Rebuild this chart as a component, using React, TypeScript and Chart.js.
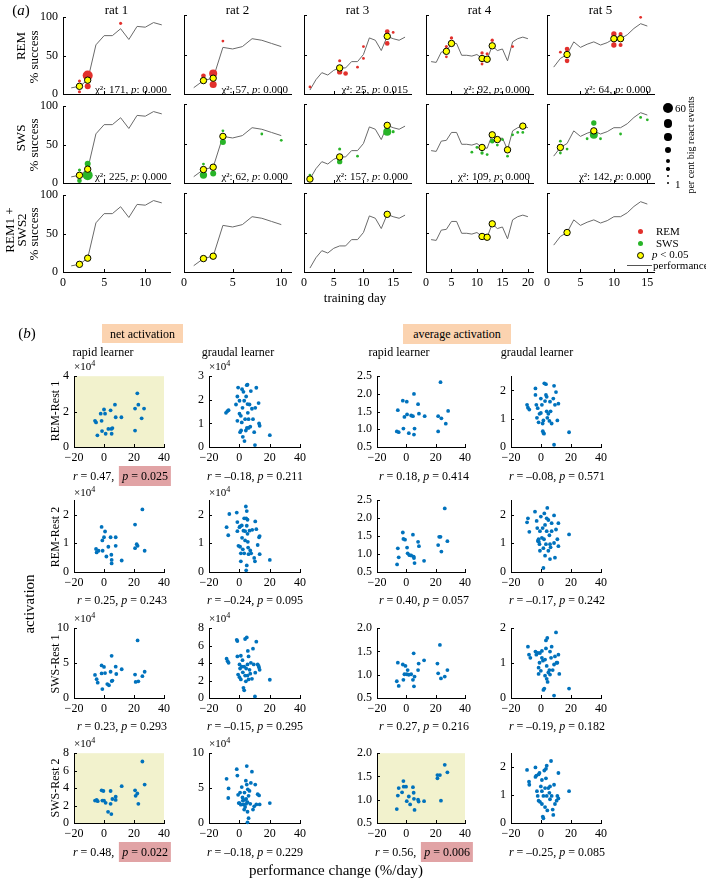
import React, { useEffect, useRef } from "react";
import { Chart, registerables } from "chart.js";
Chart.register(...registerables);

const FONT = '"Liberation Serif", "Times New Roman", Times, serif';
Chart.defaults.font.family = FONT;
Chart.defaults.color = "#000";

// ---------------- Panel (a) data ----------------
const ratNames = ["rat 1", "rat 2", "rat 3", "rat 4", "rat 5"];
const dayTicks = [[0, 5, 10], [0, 5, 10], [0, 5, 10, 15], [0, 5, 10, 15, 20], [0, 5, 10, 15]];
const dayMax = [13, 11, 18, 21, 16];
const pctTicks = [0, 50, 100];

const rat1Perf = [8, 10, 18, 64, 76, 76, 85, 71, 88, 87, 93, 90];
const rat2Perf = [8, 17, 20, 59, 57, 60, 70, 68, 64, 60];
const rat3Perf = [5, 18, 27, 24, 30, 33, 33, 41, 41, 50, 71, 68, 55, 73, 70, 68, 72];
const rat4Perf = [41, 40, 53, 54, 64, 64, 49, 49, 48, 50, 45, 44, 61, 55, 57, 42, 66, 70, 72, 70];
const rat5Perf = [34, 45, 50, 66, 59, 63, 66, 62, 65, 70, 70, 75, 83, 89, 86];

// [training day, % success, per cent big react events]
const rat1Rem = [[2, 17, 8], [2, 3, 8], [3, 24, 60], [3, 10, 30], [7, 92, 8]];
const rat2Rem = [[2, 23, 20], [3, 26, 45], [3, 12, 38], [4, 67, 6]];
const rat3Rem = [[1, 9, 6], [6, 42, 8], [6, 28, 25], [7, 26, 20], [9, 34, 6], [10, 60, 6], [10, 45, 6], [14, 79, 20], [14, 64, 20], [15, 78, 6]];
const rat4Rem = [[4, 60, 8], [4, 47, 6], [5, 71, 10], [11, 52, 10], [12, 51, 8], [11, 38, 6], [13, 68, 10], [17, 60, 6]];
const rat5Rem = [[2, 53, 6], [3, 57, 20], [3, 42, 20], [10, 76, 25], [10, 62, 25], [11, 76, 15], [11, 62, 15], [14, 97, 6]];

const rat1Sws = [[2, 17, 8], [2, 3, 20], [3, 25, 30], [3, 10, 60]];
const rat2Sws = [[2, 24, 6], [2, 10, 40], [3, 12, 30], [4, 66, 6], [4, 52, 30], [8, 62, 6], [10, 54, 6]];
const rat3Sws = [[1, 10, 6], [6, 43, 8], [6, 27, 25], [9, 34, 6], [14, 65, 45], [15, 65, 8]];
const rat4Sws = [[9, 39, 6], [10, 45, 6], [11, 38, 10], [12, 36, 6], [13, 53, 20], [14, 48, 6], [15, 55, 6], [16, 34, 6], [17, 61, 6], [18, 64, 6], [19, 64, 6]];
const rat5Sws = [[2, 53, 6], [2, 38, 6], [3, 43, 6], [6, 56, 6], [7, 76, 25], [7, 61, 45], [8, 56, 6], [11, 62, 6], [14, 83, 6], [15, 80, 6]];

// significant days (p < 0.05) for rows REM, SWS, REM1 + SWS2
const rat1SigDays = [[2, 3], [2, 3], [2, 3]];
const rat2SigDays = [[2, 3], [2, 3, 4], [2, 3]];
const rat3SigDays = [[6, 14], [1, 6, 14], [14]];
const rat4SigDays = [[4, 5, 11, 12, 13], [11, 13, 14, 16, 19], [11, 12, 13]];
const rat5SigDays = [[3, 10, 11], [2, 7], [3]];

const chiRem = [171, 57, 25, 92, 64];
const chiRemP = [0.0, 0.0, 0.015, 0.0, 0.0];
const chiSws = [225, 62, 157, 109, 142];
const chiSwsP = [0.0, 0.0, 0.0, 0.0, 0.0];
const sizeLegendPct = [60, 50, 40, 30, 20, 10, 5, 1];

// ---------------- Panel (b) data ----------------
const bRowNames = ["REM-Rest 1", "REM-Rest 2", "SWS-Rest 1", "SWS-Rest 2"];
const perfTicks = [-20, 0, 20, 40];

const remRest1NetRapid = [[-6, 1.48], [-5.3, 1.39], [-4.4, 0.66], [-2.2, 1.88], [-1.6, 1.48], [-1.3, 0.9], [0, 2.12], [0.7, 1.88], [1.1, 0.75], [2.9, 1.02], [4.4, 2.07], [4.9, 1.02], [5.1, 0.75], [5.6, 1.07], [7.3, 2.39], [7.8, 1.68], [11.6, 1.68], [20.7, 0.93], [20.7, 2.17], [22.2, 3.03], [22.9, 2.39], [25.1, 1.62], [26.7, 2.17]];
const remRest1NetGradual = [[-8.8, 1.45], [-7.9, 1.52], [-7.1, 1.56], [-2.2, 1.8], [-1.3, 2.14], [-1.3, 1.11], [-0.8, 2.52], [0.1, 1.96], [0.1, 1.41], [0.5, 0.63], [1, 1.32], [1.2, 0.7], [1.8, 2.45], [2.1, 1.66], [2.3, 0.43], [2.7, 2.34], [3.4, 0.25], [3.8, 1.18], [4.3, 0.7], [4.5, 2.14], [4.9, 2.62], [5.4, 2.64], [5.4, 1.82], [5.6, 1.45], [6.1, 1.18], [6.1, 0.81], [6.7, 1.8], [7.2, 0.86], [7.6, 2.37], [8.3, 1.62], [9, 1.18], [9.8, 0.63], [10.3, 0.08], [10.5, 1.66], [11.2, 2.51], [12.7, 1.86], [13, 1], [13.4, 0.9], [20.1, 0.5], [5, 0.81], [3.2, 1.96], [1.6, 1.04]];
const remRest1AvgRapid = [[-5.8, 1.54], [-6.5, 0.94], [-5.2, 0.92], [-2.4, 1.81], [-2, 1.02], [-1.3, 1.35], [0.3, 1.78], [0.5, 1.42], [1.7, 0.89], [3.3, 1.39], [4.5, 1.37], [5.2, 2], [5.6, 1.02], [5.2, 0.85], [8, 1.71], [8.6, 1.44], [12.5, 1.37], [21.7, 1.37], [21.7, 0.94], [23.3, 2.33], [23.9, 1.31], [26.9, 1.16], [28.5, 1.52]];
const remRest1AvgGradual = [[-9.3, 1.49], [-8.7, 1.39], [-7.8, 1.32], [-3.7, 2.07], [-3.7, 1.84], [-3.1, 1.49], [-2.7, 1.03], [-2.2, 1.37], [-1.6, 0.87], [-1, 1.17], [-0.1, 1.2], [-0.1, 1.71], [0.6, 1.49], [1.2, 0.56], [1.6, 0.49], [2, 0.47], [1.6, 0.94], [2.2, 2.25], [2.7, 1.62], [3.3, 2.22], [3.3, 1.84], [3.8, 1.26], [3.8, 1.77], [4.2, 1.03], [4.9, 1.17], [5.6, 0.92], [6, 1.6], [6.4, 1.26], [7.1, 0.83], [8.2, 1.71], [8.7, 2.16], [9.3, 1.49], [10, 1.94], [10.9, 0.94], [11.6, 1.53], [8.7, 0.08], [18.7, 0.52], [1.1, 0.83]];

const remRest2NetRapid = [[-5.3, 0.8], [-4.9, 0.68], [-3.6, 0.74], [-1.6, 1.57], [-1.1, 1.1], [-0.9, 0.74], [0.7, 1.41], [0, 1.21], [1.6, 0.54], [2.9, 0.88], [4.4, 1.21], [4.9, 0.6], [5.1, 0.42], [5.1, 0.3], [7.8, 1.21], [7.8, 0.91], [11.8, 0.4], [20.7, 1.65], [20.7, 0.83], [21.8, 0.97], [22.4, 0.91], [25.6, 2.18], [27.1, 0.74]];
const remRest2NetGradual = [[-8.4, 1.56], [-7.3, 1.28], [-6.6, 2.02], [-1.7, 2.07], [-1.3, 1.74], [-1.3, 1.42], [0.1, 1.56], [0.5, 1.59], [-0.6, 0.91], [0.5, 0.88], [1, 0.65], [1, 0.37], [1.6, 1.62], [1.8, 1.19], [2.3, 0.79], [2.7, 1.44], [3.2, 0.65], [3.8, 1.1], [4.3, 2.28], [4.5, 1.87], [4.9, 2.12], [4.9, 1.61], [5.4, 1.82], [5.4, 1.33], [5.6, 1.05], [5.8, 0.85], [6.1, 0.62], [4.9, 0.23], [4.5, 0.06], [6.7, 1.44], [7.2, 0.75], [7.8, 0.65], [8.5, 1.47], [9.8, 0.49], [10.3, 0.37], [10.5, 1.76], [11.2, 1.49], [12.1, 0.94], [13, 1.21], [13.4, 1.25], [13.4, 0.62], [20.1, 0.42], [3.8, 1.42], [3.2, 1.87]];
const remRest2AvgRapid = [[-5.8, 1.16], [-6.3, 0.71], [-5.2, 0.91], [-2.4, 1.6], [-2, 1.42], [-0.9, 1.4], [0.5, 1.18], [0.9, 1.02], [2.1, 0.97], [3.3, 0.96], [4.5, 1.54], [5, 0.93], [5.2, 0.89], [5.6, 0.75], [8, 1.34], [8.6, 1.22], [12.1, 0.81], [21.7, 1.25], [22.4, 1.48], [23.3, 1.48], [23.9, 1.07], [26.2, 2.27], [28, 1.36]];
const remRest2AvgGradual = [[-9.3, 1.73], [-8.7, 1.87], [-7.8, 1.4], [-4, 2.1], [-2.9, 1.78], [-2.5, 1.53], [-2.1, 1.08], [-1.6, 1.14], [-1.4, 1.05], [-1, 0.97], [-0.7, 1.42], [-0.1, 1.93], [0.6, 1.19], [1.1, 1.53], [1.6, 0.83], [2, 1.14], [2.2, 2.04], [2.7, 1.64], [2.7, 0.57], [3.3, 0.97], [3.8, 1.87], [3.8, 1.42], [4.2, 2.23], [4.9, 1.81], [5.6, 1.28], [6, 0.45], [6, 0.97], [6.4, 0.86], [7.1, 1.7], [7.1, 1.42], [8.7, 1.97], [8.7, 1.01], [9.3, 0.5], [10, 1.48], [10.9, 1.14], [11.6, 1.7], [11.6, 0.9], [1.6, 0.14], [18.7, 1.31], [-0.7, 0.74], [4.9, 0.74]];

const swsRest1NetRapid = [[-6, 3.3], [-4.9, 2.69], [-4.2, 2.19], [-1.6, 4.67], [-1.6, 3.52], [-1.1, 1.28], [0, 4.45], [0.7, 3.57], [2.2, 2], [3.3, 1.83], [4.4, 3.76], [5.1, 6.04], [5.1, 2.42], [5.6, 2.5], [7.8, 4.49], [8.2, 3.44], [11.8, 4.12], [20.7, 3.35], [21.1, 2.3], [22.4, 8.25], [22.9, 2.39], [25.6, 3.12], [27.1, 3.76]];
const swsRest1NetGradual = [[-8.4, 4.51], [-7.7, 4.22], [-7.1, 4.03], [-1.7, 6.67], [-1.3, 6.52], [-1.3, 4.76], [-0.8, 2.68], [0.1, 2.39], [0.1, 3.85], [0.5, 3.38], [1, 4.84], [1, 2.13], [1.6, 3.59], [2.1, 4.33], [2.3, 2.94], [2.7, 1.17], [3.2, 0.88], [3.8, 6.76], [4.3, 1.91], [4.5, 3.38], [4.9, 6.94], [5.4, 2.57], [5.4, 3.85], [5.6, 5.39], [6.1, 2.13], [6.1, 4.76], [6.7, 3.23], [7.2, 2.79], [7.6, 4.03], [8.3, 2.2], [9, 5.65], [9.5, 3.85], [10.3, 0.18], [10.5, 2.9], [11.2, 6.45], [12.1, 3.85], [12.7, 3.67], [13, 3.49], [13.4, 3.23], [20.1, 2.09], [3.2, 3.59], [3.8, 2.57]];
const swsRest1AvgRapid = [[-5.8, 1.26], [-6.5, 0.86], [-5.2, 0.76], [-2.4, 1.22], [-2, 0.89], [-1.3, 1.01], [-0.6, 1.19], [0.3, 1.01], [0.9, 1.1], [1.7, 1], [3.3, 1.01], [4.5, 0.89], [5, 1.46], [5.2, 0.75], [5.6, 0.96], [8, 1.1], [8.4, 1.24], [12.1, 1.31], [21.2, 1.24], [21.7, 1.03], [22.9, 1.64], [23.6, 0.92], [26.2, 0.96], [28, 1.1]];
const swsRest1AvgGradual = [[-8.7, 1.47], [-8, 1.24], [-7.1, 1.15], [-3.7, 1.33], [-3.1, 1.24], [-2.2, 1.29], [-1.6, 0.87], [-1.6, 0.69], [-1, 1.01], [-0.7, 1.29], [-0.1, 0.78], [0.6, 1.35], [1.3, 1.07], [1.6, 0.23], [2.2, 0.27], [2.7, 0.64], [2.7, 1.1], [3.3, 1.65], [3.3, 1.42], [3.8, 0.55], [3.8, 0.92], [4.2, 1.72], [4.4, 0.46], [4.9, 0.73], [5.6, 0.8], [6, 1.33], [6, 0.67], [6.7, 1.15], [7.1, 1.47], [7.8, 0.8], [8.7, 0.96], [9.3, 1.19], [10, 1.88], [10.4, 1.01], [10.9, 1.01], [11.6, 1.24], [12.2, 0.69], [8.7, 0.07], [18.7, 0.27], [0.6, 1.15]];

const swsRest2NetRapid = [[-6, 2.57], [-4.9, 2.64], [-4.2, 2.5], [-1.6, 3.74], [-1.1, 2.57], [-0.4, 3.67], [0, 2.57], [1.1, 2.31], [2.7, 1.28], [4.4, 3.67], [4.4, 2.2], [4.9, 1.02], [5.6, 2.75], [7.8, 3.01], [7.8, 2.64], [11.8, 4.22], [20.7, 3.74], [21.1, 3.12], [22.2, 3.38], [22.9, 2.2], [25.6, 7.05], [27.1, 4.4]];
const swsRest2NetGradual = [[-8.4, 6.33], [-7.1, 4.95], [-7.3, 3.58], [-1.7, 7.71], [-1.3, 6.8], [-0.8, 4.04], [-0.4, 2.85], [0.1, 2.85], [0.5, 4.36], [1, 2.62], [1.6, 5.14], [2.1, 3.67], [2.3, 3.21], [2.7, 2.66], [3.2, 1.93], [3.4, 4.36], [3.8, 2.29], [4.3, 6.06], [4.5, 3.44], [4.9, 8.16], [4.9, 5.51], [5.4, 2.98], [5.4, 1.61], [5.6, 4.82], [6.1, 3.9], [6.1, 0.69], [5.4, 0.09], [6.7, 4.59], [7.2, 2.75], [7.6, 5.74], [8.3, 7.35], [9, 1.93], [9.8, 2.39], [10.5, 5.51], [11.2, 2.66], [12.1, 4.13], [13, 3.95], [13.4, 2.66], [20.1, 2.85], [3.8, 3.3], [4.5, 2.75]];
const swsRest2AvgRapid = [[-6.5, 0.8], [-5.8, 1.09], [-5.2, 1.25], [-2.9, 1.16], [-2, 1.4], [-1.8, 1.28], [-0.2, 1.28], [0.3, 0.97], [1.7, 1.07], [2.6, 0.9], [4.5, 1.27], [5, 1.15], [5.2, 1.02], [5.6, 0.78], [8, 1], [8.4, 0.96], [12.1, 0.97], [21.2, 1.53], [21.2, 1.46], [22.9, 1.53], [23.6, 0.98], [26.2, 1.75], [28, 1.59]];
const swsRest2AvgGradual = [[-9.3, 1.9], [-8, 1.48], [-7.8, 1.37], [-3.7, 1.99], [-3.7, 1.65], [-3.1, 1.7], [-2.7, 1.14], [-2.2, 0.97], [-1.6, 1.74], [-1.6, 0.8], [-1, 1.79], [-0.7, 0.76], [-0.1, 1.31], [0.6, 1.14], [0.6, 0.68], [1.2, 0.23], [1.6, 0.17], [1.6, 0.97], [2.2, 1.88], [2.7, 1.25], [2.7, 0.57], [3.3, 1.94], [3.3, 1.6], [3.8, 0.97], [3.8, 2.05], [4.2, 0.45], [4.9, 1.25], [5.6, 1.08], [6, 1.31], [6, 0.85], [6.7, 2.22], [7.1, 0.97], [7.8, 0.48], [8.2, 0.29], [8.7, 1.37], [9.3, 0.68], [10.4, 0.8], [10.9, 0.97], [11.6, 1.79], [11.6, 0.88], [18.7, 1.14], [0.6, 1.54]];

const bYTicks = [
  [[0, 2, 4], [0, 1, 2, 3], [0.5, 1, 1.5, 2, 2.5], [0, 1, 2]],
  [[0, 1, 2], [0, 1, 2], [0.5, 1, 1.5, 2, 2.5], [0, 1, 2]],
  [[0, 5, 10], [0, 2, 4, 6, 8], [0.5, 1, 1.5, 2], [0, 1, 2]],
  [[0, 2, 4, 6, 8], [0, 5, 10], [0.5, 1, 1.5, 2], [0, 1, 2]],
];
const bYMax = [[4, 3, 2.5, 2.5], [2.5, 2.5, 2.5, 2.5], [10, 8, 2, 2], [8, 10, 2, 2.5]];
const rVals = [[0.47, -0.18, 0.18, -0.08], [0.25, -0.24, 0.4, -0.17], [0.23, -0.15, 0.27, -0.19], [0.48, -0.18, 0.56, -0.25]];
const pVals = [[0.025, 0.211, 0.414, 0.571], [0.243, 0.095, 0.057, 0.242], [0.293, 0.295, 0.216, 0.182], [0.022, 0.229, 0.006, 0.085]];

// ---------------- layout / style ----------------
const ML = 40, MR = 14, MT = 10, MB = 24;
const PA_LEFT = [63, 184, 304, 426, 547];
const PA_TOP = [15, 104, 193];
const PA_W = 107, PA_H = 79;
const PB_LEFT = [74, 209, 377, 511];
const PB_W = [90, 91, 88, 90];
const PB_TOP = [374, 498, 626, 751];
const PB_H = [73, 74, 72, 72];
const RED = "#e2302c";
const GREEN = "#28b428";
const YELLOW = "#ffff00";
const BLUE = "#0072bd";
const HL = "#f2f2cd";
const PINK = "#e1a3a5";
const PEACH = "#fbd3b0";

const perfByRat = [rat1Perf, rat2Perf, rat3Perf, rat4Perf, rat5Perf];
const remByRat = [rat1Rem, rat2Rem, rat3Rem, rat4Rem, rat5Rem];
const swsByRat = [rat1Sws, rat2Sws, rat3Sws, rat4Sws, rat5Sws];
const sigByRat = [rat1SigDays, rat2SigDays, rat3SigDays, rat4SigDays, rat5SigDays];
const bData = [
  [remRest1NetRapid, remRest1NetGradual, remRest1AvgRapid, remRest1AvgGradual],
  [remRest2NetRapid, remRest2NetGradual, remRest2AvgRapid, remRest2AvgGradual],
  [swsRest1NetRapid, swsRest1NetGradual, swsRest1AvgRapid, swsRest1AvgGradual],
  [swsRest2NetRapid, swsRest2NetGradual, swsRest2AvgRapid, swsRest2AvgGradual],
];

const sizeRadius = (pct: number) => 1 + (4 * pct) / 60;
const minus = (v: number) => (v < 0 ? "\u2212" + Math.abs(v) : String(v));

type Spec = {
  left: number; top: number; w: number; h: number;
  xMin: number; xMax: number; xTicks: number[]; xLabels: boolean;
  yMin: number; yMax: number; yTicks: number[]; yLabels: boolean; yDec: number;
  datasets: any[]; bg?: string;
};

const specs: Spec[] = [];
for (let r = 0; r < 3; r++) {
  for (let c = 0; c < 5; c++) {
    const perf = perfByRat[c];
    const ds: any[] = [
      { data: perf.map((v, i) => ({ x: i + 1, y: v })), showLine: true, borderColor: "#6a6a6a", borderWidth: 1, pointRadius: 0, order: 3, clip: false },
    ];
    const marks = r === 0 ? remByRat[c] : r === 1 ? swsByRat[c] : [];
    if (marks.length) {
      ds.push({
        data: marks.map(([d, v, p]) => ({ x: d, y: v, p })),
        pointRadius: (ctx: any) => sizeRadius(ctx.raw && ctx.raw.p ? ctx.raw.p : 1),
        backgroundColor: r === 0 ? RED : GREEN, borderWidth: 0, order: 2, clip: false,
      });
    }
    ds.push({
      data: sigByRat[c][r].map((d) => ({ x: d, y: perf[d - 1] })),
      pointRadius: 3.2, backgroundColor: YELLOW, borderColor: "#000", borderWidth: 1, order: 1, clip: false,
    });
    specs.push({
      left: PA_LEFT[c], top: PA_TOP[r], w: PA_W, h: PA_H,
      xMin: 0, xMax: dayMax[c], xTicks: dayTicks[c], xLabels: r === 2,
      yMin: 0, yMax: 100, yTicks: pctTicks, yLabels: c === 0, yDec: 0, datasets: ds,
    });
  }
}
for (let r = 0; r < 4; r++) {
  for (let c = 0; c < 4; c++) {
    specs.push({
      left: PB_LEFT[c], top: PB_TOP[r], w: PB_W[c], h: PB_H[r],
      xMin: -20, xMax: 40, xTicks: perfTicks, xLabels: true,
      yMin: c === 2 ? 0.5 : 0, yMax: bYMax[r][c], yTicks: bYTicks[r][c], yLabels: true, yDec: c === 2 ? 1 : 0,
      datasets: [{ data: bData[r][c].map(([x, y]) => ({ x, y })), pointRadius: 1.9, backgroundColor: BLUE, borderWidth: 0, clip: false }],
      bg: pVals[r][c] < 0.05 ? HL : undefined,
    });
  }
}

function buildConfig(s: Spec): any {
  const font = { family: FONT, size: 12 };
  const bgPlugin = {
    id: "bgfill",
    beforeDraw(chart: any) {
      if (!s.bg) return;
      const { ctx, chartArea: a } = chart;
      ctx.save();
      ctx.fillStyle = s.bg;
      ctx.fillRect(a.left, a.top, a.right - a.left, a.bottom - a.top);
      ctx.restore();
    },
  };
  const tickPlugin = {
    id: "inticks",
    afterDraw(chart: any) {
      const { ctx, chartArea: a, scales } = chart;
      ctx.save();
      ctx.strokeStyle = "#000";
      ctx.lineWidth = 1;
      ctx.beginPath();
      s.xTicks.forEach((v) => {
        const px = Math.round(scales.x.getPixelForValue(v)) + 0.5;
        ctx.moveTo(px, a.bottom);
        ctx.lineTo(px, a.bottom - 3);
      });
      s.yTicks.forEach((v) => {
        const py = Math.round(scales.y.getPixelForValue(v)) + 0.5;
        ctx.moveTo(a.left, py);
        ctx.lineTo(a.left + 3, py);
      });
      ctx.stroke();
      ctx.restore();
    },
  };
  return {
    type: "scatter",
    data: { datasets: s.datasets },
    options: {
      animation: false, responsive: false, maintainAspectRatio: false, events: [],
      layout: { padding: { top: MT, right: MR, left: 0, bottom: 0 } },
      plugins: { legend: { display: false }, tooltip: { enabled: false } },
      scales: {
        x: {
          type: "linear", min: s.xMin, max: s.xMax,
          afterBuildTicks: (sc: any) => { sc.ticks = s.xTicks.map((v) => ({ value: v })); },
          afterFit: (sc: any) => { sc.height = MB; },
          grid: { display: false, drawTicks: false },
          border: { display: true, color: "#000", width: 1 },
          ticks: { display: s.xLabels, color: "#000", font, padding: 4, maxRotation: 0, minRotation: 0, autoSkip: false, callback: (v: any) => minus(Number(v)) },
        },
        y: {
          type: "linear", min: s.yMin, max: s.yMax,
          afterBuildTicks: (sc: any) => { sc.ticks = s.yTicks.map((v) => ({ value: v })); },
          afterFit: (sc: any) => { sc.width = ML; },
          grid: { display: false, drawTicks: false },
          border: { display: true, color: "#000", width: 1 },
          ticks: { display: s.yLabels, color: "#000", font, padding: 5, autoSkip: false, callback: (v: any) => Number(v).toFixed(s.yDec) },
        },
      },
    },
    plugins: [bgPlugin, tickPlugin],
  };
}

function Txt({ x, y, size = 12, anchor = "middle", rot = false, children, style = {} }: any) {
  const tx = anchor === "middle" ? "-50%" : anchor === "end" ? "-100%" : "0";
  return (
    <div style={{ position: "absolute", left: x, top: y, transform: `translate(${tx},-50%)${rot ? " rotate(-90deg)" : ""}`, fontSize: size, lineHeight: 1, whiteSpace: "nowrap", fontFamily: FONT, color: "#000", ...style }}>
      {children}
    </div>
  );
}

const fmtR = (r: number) => (r < 0 ? "\u2013" + Math.abs(r).toFixed(2) : r.toFixed(2));

function Stat({ cx, cy, r, p }: any) {
  const hl = p < 0.05;
  return (
    <div style={{ position: "absolute", left: cx, top: cy, transform: "translate(-50%,-50%)", fontSize: 12, lineHeight: 1, whiteSpace: "nowrap", display: "flex", alignItems: "center", fontFamily: FONT }}>
      <span><i>r</i> = {fmtR(r)},</span>
      <span style={{ marginLeft: hl ? 5 : 3, background: hl ? PINK : "transparent", padding: hl ? "4px 3px" : 0 }}><i>p</i> = {p.toFixed(3)}</span>
    </div>
  );
}

const Sup4 = () => <span>×10<span style={{ fontSize: 8, position: "relative", top: -4 }}>4</span></span>;

export default function App() {
  const refs = useRef<(HTMLCanvasElement | null)[]>([]);
  useEffect(() => {
    const charts = specs.map((s, i) => new Chart(refs.current[i] as HTMLCanvasElement, buildConfig(s)));
    return () => charts.forEach((c) => c.destroy());
  }, []);

  const legendY = [108, 123.5, 137, 150, 161, 169, 176, 183];
  const rpCx = [122, 255, 424, 557];
  const rpCy = [476, 600, 726, 852];
  const x4Y = [366, 492, 618, 743];
  const bRowCy = [411, 537, 664, 788];

  return (
    <div style={{ position: "absolute", left: 0, top: 0, width: 706, height: 878, background: "#fff", overflow: "hidden", fontFamily: FONT }}>
      {specs.map((s, i) => {
        const W = s.w + ML + MR, H = s.h + MT + MB;
        return (
          <canvas key={i} ref={(el) => { refs.current[i] = el; }} width={W} height={H}
            style={{ position: "absolute", left: s.left - ML, top: s.top - MT, width: W, height: H }} />
        );
      })}

      {/* ---------- panel (a) text ---------- */}
      <Txt x={21} y={10} size={15}>(<i>a</i>)</Txt>
      {ratNames.map((n, c) => <Txt key={n} x={PA_LEFT[c] + PA_W / 2} y={8.5} size={13}>{n}</Txt>)}
      <Txt x={20} y={46} size={13} rot>REM</Txt>
      <Txt x={33} y={57} size={13} rot>% success</Txt>
      <Txt x={20} y={138} size={13} rot>SWS</Txt>
      <Txt x={33} y={145} size={13} rot>% success</Txt>
      <Txt x={9} y={230} size={13} rot>REM1 +</Txt>
      <Txt x={21} y={230} size={13} rot>SWS2</Txt>
      <Txt x={33} y={234} size={13} rot>% success</Txt>
      <Txt x={355} y={297} size={13}>training day</Txt>
      {chiRem.map((v, c) => (
        <Txt key={"cr" + c} x={PA_LEFT[c] + PA_W - 3} y={89} size={11} anchor="end">χ²: {v}, <i>p</i>: {chiRemP[c].toFixed(3)}</Txt>
      ))}
      {chiSws.map((v, c) => (
        <Txt key={"cs" + c} x={PA_LEFT[c] + PA_W - 3} y={176} size={11} anchor="end">χ²: {v}, <i>p</i>: {chiSwsP[c].toFixed(3)}</Txt>
      ))}
      {sizeLegendPct.map((p, i) => {
        const rr = sizeRadius(p);
        return <div key={"sl" + i} style={{ position: "absolute", left: 668 - rr, top: legendY[i] - rr, width: rr * 2, height: rr * 2, borderRadius: "50%", background: "#000" }} />;
      })}
      <Txt x={675} y={108} size={11} anchor="start">60</Txt>
      <Txt x={675} y={184} size={11} anchor="start">1</Txt>
      <Txt x={691} y={145} size={10} rot>per cent big react events</Txt>

      <div style={{ position: "absolute", left: 637.5, top: 228.5, width: 5, height: 5, borderRadius: "50%", background: RED }} />
      <Txt x={656} y={231} size={11} anchor="start">REM</Txt>
      <div style={{ position: "absolute", left: 637.5, top: 240.5, width: 5, height: 5, borderRadius: "50%", background: GREEN }} />
      <Txt x={656} y={243} size={11} anchor="start">SWS</Txt>
      <div style={{ position: "absolute", left: 636.5, top: 251.5, width: 5, height: 5, borderRadius: "50%", background: YELLOW, border: "1px solid #000" }} />
      <Txt x={652} y={254} size={11} anchor="start"><i>p</i> &lt; 0.05</Txt>
      <div style={{ position: "absolute", left: 627, top: 265, width: 25, height: 1, background: "#555" }} />
      <Txt x={653} y={265} size={11} anchor="start">performance</Txt>

      {/* ---------- panel (b) text ---------- */}
      <Txt x={27} y={333} size={15}>(<i>b</i>)</Txt>
      <div style={{ position: "absolute", left: 102, top: 324, width: 81, height: 19, background: PEACH }} />
      <Txt x={142.5} y={333.5} size={12}>net activation</Txt>
      <div style={{ position: "absolute", left: 403, top: 324, width: 108, height: 20, background: PEACH }} />
      <Txt x={457} y={334} size={12}>average activation</Txt>
      <Txt x={103} y={352} size={12}>rapid learner</Txt>
      <Txt x={238} y={352} size={12}>graudal learner</Txt>
      <Txt x={399} y={352} size={12}>rapid learner</Txt>
      <Txt x={537} y={352} size={12}>graudal learner</Txt>
      {x4Y.map((y, r) => (
        <React.Fragment key={"x4" + r}>
          <Txt x={PB_LEFT[0]} y={y} size={11} anchor="start"><Sup4 /></Txt>
          <Txt x={PB_LEFT[1]} y={y} size={11} anchor="start"><Sup4 /></Txt>
        </React.Fragment>
      ))}
      {bRowNames.map((n, r) => <Txt key={n} x={55} y={bRowCy[r]} size={12} rot>{n}</Txt>)}
      <Txt x={29} y={604} size={15} rot>activation</Txt>
      <Txt x={336} y={870} size={15}>performance change (%/day)</Txt>
      {rVals.map((row, r) => row.map((rv, c) => (
        <Stat key={"st" + r + c} cx={rpCx[c]} cy={rpCy[r]} r={rv} p={pVals[r][c]} />
      )))}
    </div>
  );
}
